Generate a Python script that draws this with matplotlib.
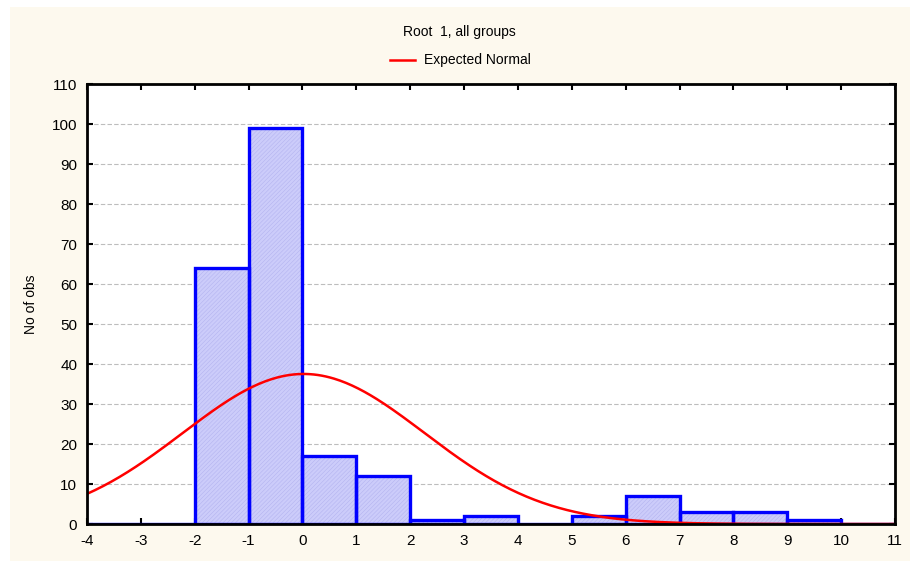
import numpy as np
import matplotlib.pyplot as plt
from matplotlib.patches import Rectangle
from matplotlib.lines import Line2D

# histogram of root 1 scores (bin width 1)
bin_left = [-4, -3, -2, -1, 0, 1, 2, 3, 4, 5, 6, 7, 8, 9, 10]
counts = [0, 0, 64, 99, 17, 12, 1, 2, 0, 2, 7, 3, 3, 1, 0]
x_ticks = list(range(-4, 12))
y_ticks = list(range(0, 120, 10))

BG = "#FDF9EE"
plt.rcParams["font.family"] = ["Liberation Sans", "DejaVu Sans"]
plt.rcParams["axes.unicode_minus"] = False
plt.rcParams["hatch.linewidth"] = 0.4

fig = plt.figure(figsize=(9.1, 5.61), dpi=100)
fig.patch.set_facecolor("white")
fig.patches.append(Rectangle((10 / 910, 0.0), 1.0, 1 - 7 / 561, transform=fig.transFigure,
                             facecolor=BG, edgecolor="none", zorder=-10))

ax = fig.add_axes([87 / 910, 1 - 524 / 561, (895 - 87) / 910, (524 - 84) / 561])
ax.set_facecolor("white")

# bars: finely hatched fill, then blue outline on top
centers = np.array(bin_left) + 0.5
ax.bar(bin_left, counts, width=1.0, align="edge", facecolor="#CCCCFA",
       edgecolor="#B4B4F0", linewidth=0, hatch="////////", zorder=3)
ax.bar(bin_left, counts, width=1.0, align="edge", fill=False,
       edgecolor="#0000FF", linewidth=2.4, zorder=3.5)

# expected normal from the binned data
n = np.sum(counts)
mu = np.sum(centers * np.array(counts)) / n
sd = np.sqrt(np.sum(np.array(counts) * (centers - mu) ** 2) / n)
xs = np.linspace(-4, 11, 400)
ys = n * 1.0 / (sd * np.sqrt(2 * np.pi)) * np.exp(-0.5 * ((xs - mu) / sd) ** 2)
ax.plot(xs, ys, color="#FF0000", lw=1.8, zorder=4)

ax.set_xlim(-4, 11)
ax.set_ylim(0, 110)
ax.set_xticks(x_ticks)
ax.set_yticks(y_ticks)
ax.tick_params(direction="in", length=4, width=1.5, top=True, right=True,
               labelsize=11, pad=7, colors="black")
ax.grid(axis="y", color="#BDBDBD", linestyle=(0, (4, 2)), linewidth=0.8, zorder=0)
for s in ax.spines.values():
    s.set_linewidth(2)
    s.set_color("black")
    s.set_zorder(5)

ax.set_ylabel("No of obs", fontsize=10, labelpad=10)

fig.text(0.5 + 0.005, 1 - 32 / 561, "Root  1, all groups", ha="center", va="center", fontsize=10)
fig.add_artist(Line2D([390 / 910, 415 / 910], [1 - 60 / 561, 1 - 60 / 561],
                      transform=fig.transFigure, color="#FF0000", lw=1.8))
fig.text(424 / 910, 1 - 60 / 561, "Expected Normal", ha="left", va="center", fontsize=10)

fig.savefig("out.png", dpi=100, facecolor=fig.get_facecolor())
